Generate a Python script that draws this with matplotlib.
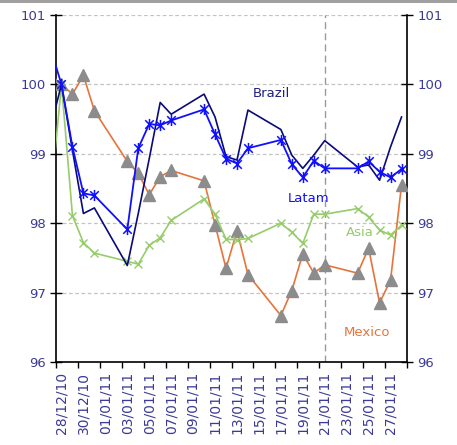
import numpy as np
import pandas as pd
import matplotlib
matplotlib.use("Agg")
import matplotlib.pyplot as plt
from matplotlib.path import Path
from matplotlib.patches import Rectangle

# trading days (27/12 is only there so the lines come in from the left edge)
dates = ['27/12/10', '28/12/10', '29/12/10', '30/12/10', '31/12/10',
         '03/01/11', '04/01/11', '05/01/11', '06/01/11', '07/01/11',
         '10/01/11', '11/01/11', '12/01/11', '13/01/11', '14/01/11',
         '17/01/11', '18/01/11', '19/01/11', '20/01/11', '21/01/11',
         '24/01/11', '25/01/11', '26/01/11', '27/01/11', '28/01/11']

brazil = [99.38, 100.0, 99.05, 98.14, 98.22, 97.39, 98.14, 98.93, 99.74, 99.57,
          99.86, 99.53, 98.96, 98.91, 99.63, 99.35, 98.98, 98.79, 98.98, 99.19,
          98.81, 98.84, 98.62, 99.10, 99.53]
latam = [100.52, 100.0, 99.10, 98.43, 98.40, 97.91, 99.08, 99.43, 99.41, 99.48,
         99.64, 99.28, 98.93, 98.86, 99.08, 99.20, 98.85, 98.66, 98.90, 98.79,
         98.79, 98.89, 98.74, 98.66, 98.78]
asia = [98.34, 100.0, 98.11, 97.72, 97.57, 97.45, 97.41, 97.68, 97.79, 98.04,
        98.35, 98.13, 97.77, 97.76, 97.78, 98.00, 97.87, 97.71, 98.13, 98.13,
        98.21, 98.09, 97.90, 97.83, 97.97]
mexico = [100.12, 100.0, 99.86, 100.13, 99.62, 98.89, 98.72, 98.41, 98.67, 98.76,
          98.61, 97.98, 97.35, 97.89, 97.26, 96.67, 97.03, 97.56, 97.28, 97.40,
          97.28, 97.64, 96.85, 97.18, 98.55]

tick_labels = ['28/12/10', '30/12/10', '01/01/11', '03/01/11', '05/01/11',
               '07/01/11', '09/01/11', '11/01/11', '13/01/11', '15/01/11',
               '17/01/11', '19/01/11', '21/01/11', '23/01/11', '25/01/11',
               '27/01/11']
marker_date = '21/01/11'
start_date = '28/12/10'
end_date = '29/01/11'

base = pd.to_datetime(start_date, dayfirst=True)
def day_num(s):
    return (pd.to_datetime(s, dayfirst=True) - base).days

x = np.array([day_num(d) for d in dates], dtype=float)
x_ticks = np.array([day_num(d) for d in tick_labels], dtype=float)
x_end = day_num(end_date)

# excel-ish star marker: an x plus a vertical bar
star = Path([(-1, -1), (1, 1), (-1, 1), (1, -1), (0, -1.3), (0, 1.3)],
            [Path.MOVETO, Path.LINETO, Path.MOVETO, Path.LINETO, Path.MOVETO, Path.LINETO])

TXT = "#3b3b96"
fig = plt.figure(figsize=(4.57, 4.45), dpi=100)
ax = fig.add_axes([56 / 457, 1 - 362 / 445, 351 / 457, 347 / 445])

ax.plot(x, mexico, color="#E8733A", lw=1.2, marker="^", ms=8.5,
        mfc="#8c8c8c", mec="#8c8c8c", zorder=3)
ax.plot(x, asia, color="#96CC6A", lw=1.2, marker="x", ms=6, mew=1.0, zorder=4)
ax.plot(x, brazil, color="#0a0a78", lw=1.2, zorder=5)
ax.plot(x, latam, color="#1010ff", lw=1.3, marker=star, ms=8, mew=1.1, zorder=6)

ax.axvline(day_num(marker_date), color="#9a9a9a", lw=1.0, ls=(0, (5, 3)), zorder=1)

ax.set_xlim(-0.5, x_end - 0.5)
ax.set_ylim(96, 101)
ax.set_yticks([96, 97, 98, 99, 100, 101])
ax.yaxis.grid(True, color="#c4c4c4", lw=0.9, ls=(0, (3, 2)))
ax.set_axisbelow(True)

ax.set_xticks(x_ticks)
ax.set_xticklabels(tick_labels, rotation=90, color=TXT, fontsize=10)
ax.tick_params(axis="x", which="major", length=0, pad=7)
ax.set_xticks(np.arange(-0.5, x_end, 2), minor=True)
ax.tick_params(axis="x", which="minor", length=4, direction="out", width=1)

ax.tick_params(axis="y", which="major", left=True, right=True, labelright=True,
               direction="inout", length=9, width=1, labelcolor=TXT,
               labelsize=9.5, pad=3)
ax.spines["top"].set_visible(False)
for s in ["left", "right", "bottom"]:
    ax.spines[s].set_color("black")
    ax.spines[s].set_linewidth(1.2)

ax.text(17.4, 99.87, "Brazil", color="#202080", fontsize=9.5, va="center")
ax.text(20.6, 98.36, "Latam", color="#1010ff", fontsize=9.5, va="center")
ax.text(25.9, 97.87, "Asia", color="#96CC6A", fontsize=9.5, va="center")
ax.text(25.7, 96.42, "Mexico", color="#E8733A", fontsize=9.5, va="center")

# grey band along the top edge
fig.add_artist(Rectangle((0, 1 - 3 / 445), 1, 3 / 445, transform=fig.transFigure,
                         color="#a0a0a0", lw=0))

fig.savefig("out.png", dpi=100)
